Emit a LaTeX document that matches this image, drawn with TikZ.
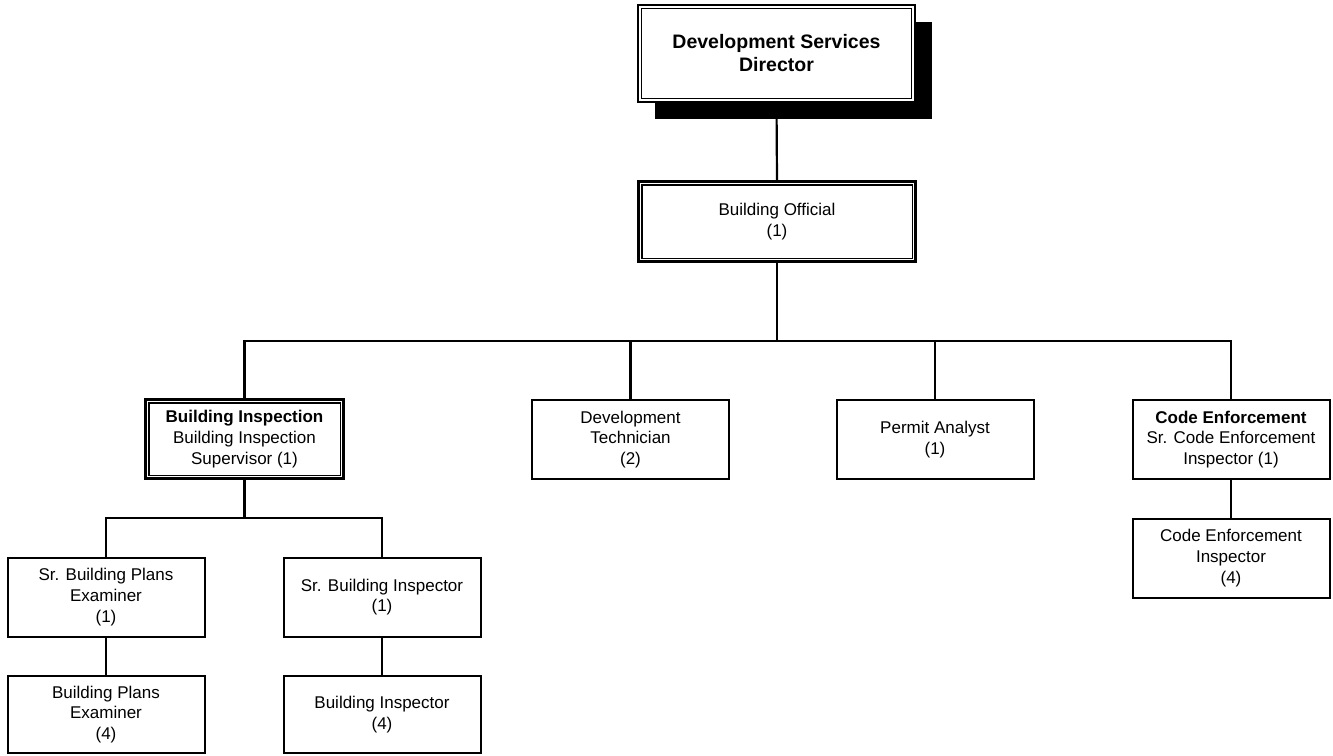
\documentclass[tikz,border=0pt]{standalone}
\usepackage{fontspec}
\setmainfont{Liberation Sans}
\usetikzlibrary{shadows}
\begin{document}
\begin{tikzpicture}[x=1pt,y=-1pt,
  txt/.style={font=\fontsize{17}{20.8}\selectfont, align=center},
  box/.style={txt, draw, line width=2pt, fill=white, inner sep=0pt, minimum width=197pt, minimum height=79pt},
  dbox/.style={box, line width=2.5pt},
  inner/.style={line width=1.3pt},
  conn/.style={line width=2.2pt, line join=miter}]
\useasboundingbox (0,0) rectangle (1333,755);

% nodes
\node[dbox, minimum width=277pt, minimum height=97pt,
      font=\fontsize{19.5}{23}\selectfont\bfseries,
      drop shadow={shadow xshift=17pt, shadow yshift=-17pt, opacity=1, fill=black}]
      (dir) at (776.5,53.5) {Development Services\\Director};
\node[dbox, minimum width=277pt, minimum height=80pt] (bo) at (777,221.5) {Building Official\\(1)};

\node[dbox, minimum width=198pt] (bi) at (244.5,439) {\textbf{Building Inspection}\\Building Inspection\\Supervisor (1)};
\node[box] (dt) at (630.5,439.5) {Development\\Technician\\(2)};
\node[box] (pa) at (935,439.5) {Permit Analyst\\(1)};
\node[box] (ce) at (1231,439.5) {\textbf{Code Enforcement}\\Sr. Code Enforcement\\Inspector (1)};
\node[box] (cei) at (1231,558) {Code Enforcement\\Inspector\\(4)};

\node[box] (sbpe) at (106,597) {Sr. Building Plans\\Examiner\\(1)};
\node[box] (sbi) at (382,597) {Sr. Building Inspector\\(1)};
\node[box, minimum height=77pt] (bpe) at (106,714.5) {Building Plans\\Examiner\\(4)};
\node[box, minimum height=77pt] (bin) at (382,714.5) {Building Inspector\\(4)};

% inner borders of double boxes
\foreach \n in {dir,bo,bi}
  \draw[inner] ([shift={(4.6pt,4.6pt)}]\n.south west) rectangle ([shift={(-4.6pt,-4.6pt)}]\n.north east);

% connectors
\coordinate (bus) at (0,341);
\coordinate (sub) at (0,518);
\draw[conn] (dir.south) -- (bo.north);
\draw[conn] (bo.south) -- (bo.south |- bus);
\draw[conn] (bi.north) |- (ce.north |- bus) -- (ce.north);
\draw[conn] (dt.north) -- (dt.north |- bus);
\draw[conn] (pa.north) -- (pa.north |- bus);
\draw[conn] (bi.south) -- (bi.south |- sub);
\draw[conn] (sbpe.north) |- (sbi.north |- sub) -- (sbi.north);
\draw[conn] (sbpe.south) -- (bpe.north);
\draw[conn] (sbi.south) -- (bin.north);
\draw[conn] (ce.south) -- (cei.north);
\end{tikzpicture}
\end{document}
